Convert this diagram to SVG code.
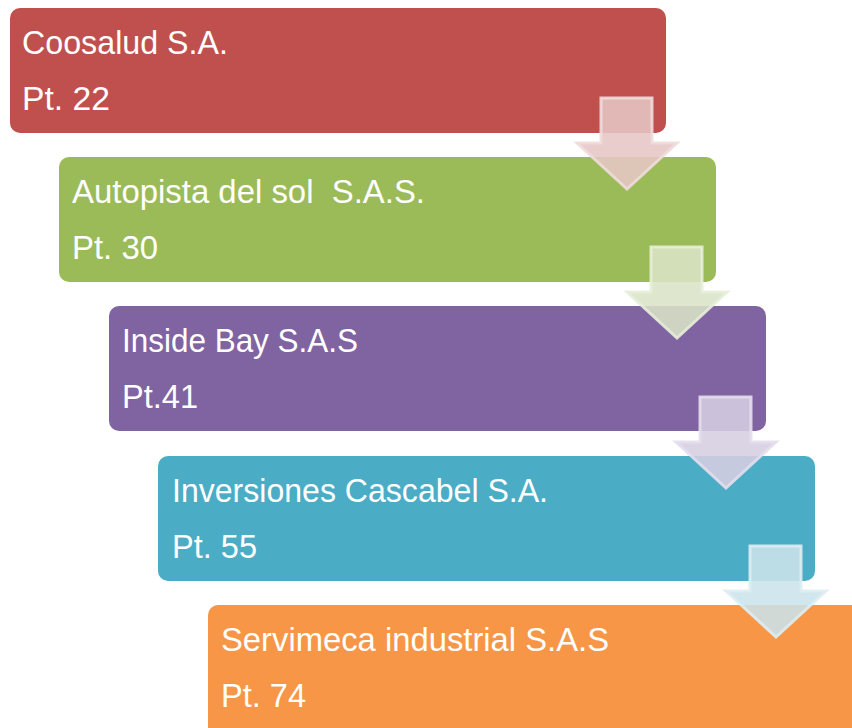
<svg xmlns="http://www.w3.org/2000/svg" width="852" height="728" viewBox="0 0 852 728">
<style>
.t{font-family:"Liberation Sans",Arial,sans-serif;font-size:33px;fill:#FFFFFF;white-space:pre}
.ar{stroke-width:3;stroke-linejoin:miter}
</style>
<rect width="852" height="728" fill="#FFFFFF"/>
<g id="n1"><rect x="10" y="8" width="656" height="125" rx="10" fill="#C0504D"/>
<text class="t" x="22" y="54" textLength="206" lengthAdjust="spacingAndGlyphs">Coosalud S.A.</text>
<text class="t" x="22" y="110" textLength="88" lengthAdjust="spacingAndGlyphs">Pt. 22</text></g>
<g id="n2"><rect x="59" y="157" width="657" height="125" rx="10" fill="#9BBB59"/>
<text class="t" x="72" y="203" textLength="353" lengthAdjust="spacingAndGlyphs" xml:space="preserve">Autopista del sol  S.A.S.</text>
<text class="t" x="72" y="259" textLength="86" lengthAdjust="spacingAndGlyphs">Pt. 30</text></g>
<g id="n3"><rect x="109" y="306" width="657" height="125" rx="10" fill="#8064A2"/>
<text class="t" x="122" y="352" textLength="236" lengthAdjust="spacingAndGlyphs">Inside Bay S.A.S</text>
<text class="t" x="122" y="408" textLength="76" lengthAdjust="spacingAndGlyphs">Pt.41</text></g>
<g id="n4"><rect x="158" y="456" width="657" height="125" rx="10" fill="#4BACC6"/>
<text class="t" x="172" y="502" textLength="376" lengthAdjust="spacingAndGlyphs">Inversiones Cascabel S.A.</text>
<text class="t" x="172" y="558" textLength="85" lengthAdjust="spacingAndGlyphs">Pt. 55</text></g>
<g id="n5"><rect x="208" y="605" width="660" height="135" rx="10" fill="#F79646"/>
<text class="t" x="221" y="651" textLength="388" lengthAdjust="spacingAndGlyphs">Servimeca industrial S.A.S</text>
<text class="t" x="221" y="707" textLength="85" lengthAdjust="spacingAndGlyphs">Pt. 74</text></g>
<g id="connectors">
<path class="ar" d="M601,98 H652 V143 H677 L627,189 L577,143 H601 Z" fill="#E6C6C5" fill-opacity="0.88" stroke="#F0DCDB" stroke-opacity="0.9"/>
<path class="ar" d="M651,247 H702 V292 H727 L677,338 L627,292 H651 Z" fill="#D9E4C6" fill-opacity="0.88" stroke="#E6EED9" stroke-opacity="0.9"/>
<path class="ar" d="M700,397 H751 V442 H776 L726,488 L676,442 H700 Z" fill="#D6CEE1" fill-opacity="0.88" stroke="#E4DEEC" stroke-opacity="0.9"/>
<path class="ar" d="M750,546 H801 V591 H826 L776,637 L726,591 H750 Z" fill="#CCE3EA" fill-opacity="0.88" stroke="#DDEDF2" stroke-opacity="0.9"/>
</g>
</svg>
